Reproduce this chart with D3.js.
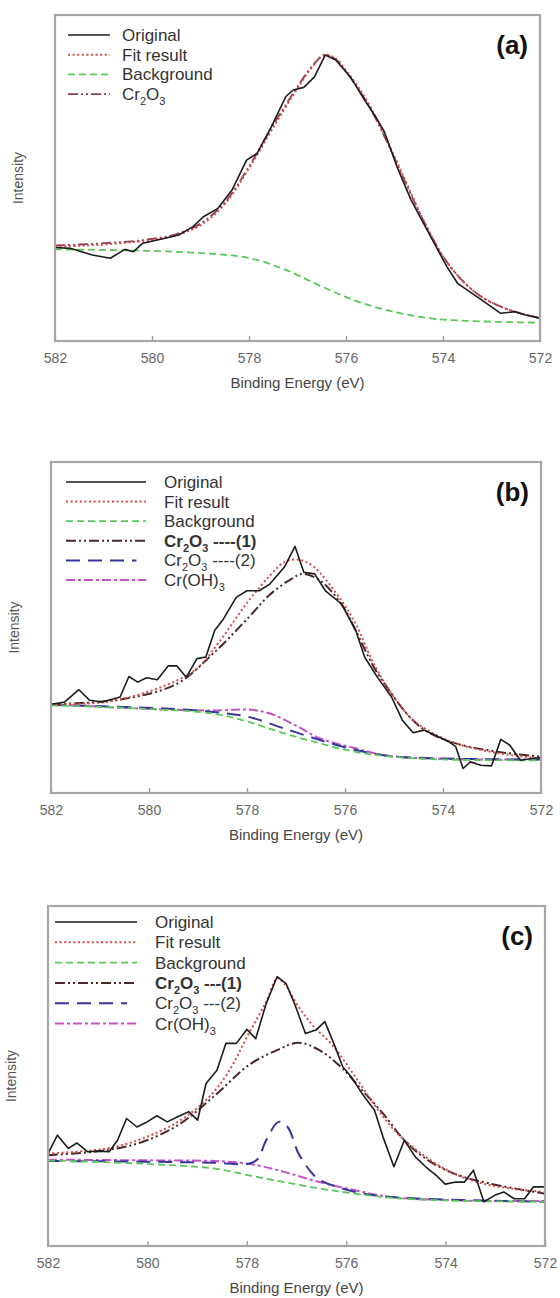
<!DOCTYPE html>
<html>
<head>
<meta charset="utf-8">
<script src="https://cdn.jsdelivr.net/npm/d3@7"></script>
<style>
  body { margin: 0; background: #fff; }
  svg { display: block; font-family: "Liberation Sans", Arial, sans-serif; }
</style>
</head>
<body>
<svg id="chart" width="560" height="1298"></svg>
<script>
// ---- data: [binding energy (eV), intensity (a.u., 0-100 of frame)] ----
const xTicks = [582, 580, 578, 576, 574, 572];

// panel (a)
const aOriginal = [[582.00,28.7],[581.67,28.4],[581.23,26.4],[580.86,25.4],[580.56,28.1],[580.38,27.4],[580.19,30.0],[579.82,31.2],[579.45,32.5],[579.16,35.0],[578.94,38.1],[578.64,40.7],[578.35,46.3],[578.05,55.5],[577.83,57.6],[577.54,65.7],[577.24,75.0],[577.09,77.0],[576.87,77.8],[576.65,81.0],[576.43,87.7],[576.21,86.2],[575.91,81.0],[575.62,74.0],[575.39,68.8],[575.21,64.2],[574.95,53.5],[574.66,43.3],[574.29,33.0],[573.92,22.8],[573.70,17.7],[573.40,14.6],[573.11,11.6],[572.81,8.5],[572.52,9.0],[572.30,8.0],[572.00,7.0]];
const aFit = [[582,29],[581.5,29.2],[581,29.6],[580.5,30.2],[580,31],[579.5,32.5],[579,35.5],[578.5,42],[578,53],[577.5,65.5],[577,77.5],[576.7,84],[576.45,87.8],[576.2,86.5],[576,83],[575.6,74.5],[575.2,63],[574.8,50],[574.4,37],[574,26],[573.6,18.5],[573.2,13.5],[572.8,10.5],[572.4,8.5],[572,7]];
const aBackground = [[582,28.1],[580.19,27.7],[578.72,26.7],[577.98,25.4],[577.24,21.8],[576.5,16.7],[575.76,12.1],[575.03,9],[574.29,7],[573.55,6.2],[572,5.6]];
const aCr2O3 = [[582,29.3],[581.5,29.6],[581,30],[580.5,30.5],[580,31.3],[579.5,32.8],[579,36],[578.5,42.5],[578,53.5],[577.5,66.3],[577,78],[576.7,84.3],[576.45,87.6],[576.2,86.2],[576,82.6],[575.6,74],[575.2,62.5],[574.8,49.5],[574.4,36.8],[574,26],[573.6,18.5],[573.2,13.5],[572.8,10.5],[572.4,8.5],[572,7]];

// panel (b)
const bOriginal = [[582.00,26.8],[581.72,27.5],[581.43,31.2],[581.21,28.0],[580.96,27.5],[580.59,29.0],[580.41,35.2],[580.23,33.5],[580.05,34.8],[579.83,34.2],[579.61,38.4],[579.43,38.4],[579.24,35.0],[579.02,40.6],[578.84,41.1],[578.66,49.1],[578.48,52.6],[578.22,59.1],[578.00,61.1],[577.75,61.1],[577.53,63.2],[577.24,68.2],[577.02,74.5],[576.84,66.7],[576.62,66.2],[576.40,61.1],[576.07,57.1],[575.78,49.1],[575.60,41.1],[575.34,35.0],[575.05,29.0],[574.83,22.0],[574.61,18.2],[574.39,19.0],[574.17,17.5],[573.88,15.5],[573.74,14.0],[573.59,7.4],[573.44,9.4],[573.23,8.4],[573.01,8.2],[572.82,16.2],[572.64,14.5],[572.42,9.9],[572.20,10.4],[572.00,10.7]];
const bFit = [[582,26.8],[580.88,27.5],[580.15,30],[579.43,34],[578.99,38],[578.55,46],[577.97,58],[577.53,65.7],[577.24,69.7],[576.95,70.5],[576.65,68.5],[576.07,58.1],[575.78,51],[575.41,39],[575.05,30],[574.68,23],[574.32,19],[573.74,15],[572.86,12],[572,10.4]];
const bBackground = [[582,26.5],[580.15,25.5],[578.7,24],[577.97,21.5],[577.24,18],[576.51,15],[575.78,12.4],[575.05,11],[573.95,10.1],[572,9.9]];
const bCr2O3a = [[582,26.8],[580.52,28.4],[579.43,33],[578.7,42],[577.97,53],[577.53,60],[577.09,64.7],[576.87,66.2],[576.51,64.2],[576.07,57],[575.78,49],[575.41,38],[575.05,30],[574.68,23],[574.32,18.5],[573.74,15],[572.86,12.4],[572,11]];
const bCr2O3b = [[582,26.6],[579.79,25.6],[578.7,24.5],[577.97,23],[577.24,19.5],[576.51,16],[575.78,13],[575.05,11.1],[572,10.1]];
const bCrOH3 = [[582,26.8],[580.15,25.5],[578.7,24.9],[577.97,25.2],[577.53,24],[577.02,20.5],[576.51,16.5],[575.78,13.5],[575.05,11.1],[572,10.1]];

// panel (c)
const cOriginal = [[582.00,27.2],[581.81,32.6],[581.59,28.7],[581.42,30.3],[581.20,27.7],[580.99,27.9],[580.77,27.7],[580.60,31.1],[580.42,37.5],[580.21,35.0],[580.03,36.3],[579.81,38.3],[579.60,36.5],[579.39,38.0],[579.17,39.5],[578.99,37.0],[578.82,47.8],[578.60,51.7],[578.42,59.6],[578.21,59.6],[578.00,63.7],[577.82,61.0],[577.61,71.3],[577.39,79.2],[577.21,77.2],[577.04,71.3],[576.82,62.5],[576.61,63.5],[576.43,66.0],[576.25,59.6],[576.07,52.7],[575.90,49.8],[575.68,44.8],[575.43,39.9],[575.26,32.1],[575.04,23.3],[574.83,31.1],[574.61,26.2],[574.40,23.3],[574.19,20.8],[574.01,18.2],[573.79,18.8],[573.62,18.8],[573.44,22.3],[573.23,13.0],[573.01,14.9],[572.83,15.9],[572.62,13.9],[572.41,13.9],[572.23,17.4],[572.00,17.4]];
const cFit = [[582,27.2],[580.81,28.7],[580.1,31.6],[579.39,36.5],[578.82,42.9],[578.39,50.7],[577.96,62.5],[577.61,71.8],[577.39,78.7],[577.25,77.2],[576.96,70.4],[576.68,65],[576.25,58.6],[575.82,49.8],[575.4,40.9],[574.97,33.1],[574.4,26.2],[573.83,21.3],[573.26,18.4],[572.69,16.9],[572,15.9]];
const cBackground = [[582,25.2],[580.1,24.2],[578.67,22.8],[577.96,20.8],[577.25,18.8],[576.54,16.9],[575.82,15.4],[575.11,14.2],[574.04,13.4],[572,13]];
const cCr2O3a = [[582,26.7],[580.81,28.2],[580.1,30.6],[579.39,35.5],[578.67,43.9],[577.96,53.2],[577.39,57.6],[576.96,59.8],[576.54,57.6],[576.11,52.7],[575.68,45.8],[575.26,39],[574.83,31.1],[574.4,25.7],[573.83,21.3],[573.12,18.4],[572,15.4]];
const cCr2O3b = [[582,25],[580.1,24.8],[578.67,24.5],[577.96,24.2],[577.78,25.6],[577.61,31.1],[577.36,36.5],[577.18,35],[576.96,27.2],[576.71,21.8],[576.54,19.5],[575.82,15.9],[575.11,14.4],[572,13]];
const cCrOH3 = [[582,25.4],[580.1,25.2],[578.67,25],[577.96,24.2],[577.25,21.8],[576.54,18.8],[575.82,16.4],[575.11,14.4],[573.69,13.4],[572,13.2]];

// ---- styles ----
const styles = {
  original:   { color: "#1c1c1c", width: 1.6, dash: null, curve: d3.curveLinear },
  fit:        { color: "#d84848", width: 2,   dash: "2,2.6", curve: d3.curveCatmullRom },
  background: { color: "#58c858", width: 1.8, dash: "7,4", curve: d3.curveCatmullRom },
  cr2o3:      { color: "#8a4054", width: 1.8, dash: "10,3,2,3,2,3", curve: d3.curveCatmullRom },
  cr2o3a:     { color: "#4a2828", width: 2,   dash: "10,3,2,3,2,3", curve: d3.curveCatmullRom },
  cr2o3b:     { color: "#36369c", width: 2,   dash: "14,8", curve: d3.curveCatmullRom },
  croh3:      { color: "#c452c4", width: 2,   dash: "9,3,3,3", curve: d3.curveCatmullRom }
};

const panels = [
  { tag: "(a)", x0: 55, x1: 540, y0: 15, y1: 341, legX: 68, legLen: 42, textX: 122, legY: 35, legStep: 19.7,
    series: [
      { key: "original", data: aOriginal, label: "Original" },
      { key: "fit", data: aFit, label: "Fit result" },
      { key: "background", data: aBackground, label: "Background" },
      { key: "cr2o3", data: aCr2O3, label: ["Cr", "2", "O", "3", ""] }
    ] },
  { tag: "(b)", x0: 51, x1: 541, y0: 462, y1: 793, legX: 66, legLen: 80, textX: 164, legY: 482, legStep: 19.6,
    series: [
      { key: "original", data: bOriginal, label: "Original" },
      { key: "fit", data: bFit, label: "Fit result" },
      { key: "background", data: bBackground, label: "Background" },
      { key: "cr2o3a", data: bCr2O3a, label: ["Cr", "2", "O", "3", " ----(1)"], bold: true },
      { key: "cr2o3b", data: bCr2O3b, label: ["Cr", "2", "O", "3", " ----(2)"], short: true },
      { key: "croh3", data: bCrOH3, label: ["Cr(OH)", "3"] }
    ] },
  { tag: "(c)", x0: 48, x1: 545, y0: 906, y1: 1246, legX: 55, legLen: 82, textX: 155, legY: 922, legStep: 20.3,
    series: [
      { key: "original", data: cOriginal, label: "Original" },
      { key: "fit", data: cFit, label: "Fit result" },
      { key: "background", data: cBackground, label: "Background" },
      { key: "cr2o3a", data: cCr2O3a, label: ["Cr", "2", "O", "3", " ---(1)"], bold: true },
      { key: "cr2o3b", data: cCr2O3b, label: ["Cr", "2", "O", "3", " ---(2)"], short: true },
      { key: "croh3", data: cCrOH3, label: ["Cr(OH)", "3"] }
    ] }
];

const svg = d3.select("#chart");

function drawPanel(p) {
  const x = d3.scaleLinear().domain([582, 572]).range([p.x0, p.x1]);
  const y = d3.scaleLinear().domain([0, 100]).range([p.y1, p.y0]);
  const g = svg.append("g");

  // clip
  const clipId = "clip" + p.tag.replace(/[()]/g, "");
  g.append("clipPath").attr("id", clipId)
    .append("rect").attr("x", p.x0).attr("y", p.y0)
    .attr("width", p.x1 - p.x0).attr("height", p.y1 - p.y0);

  // inward ticks on bottom axis
  const axis = d3.axisBottom(x).tickValues(xTicks).tickSizeInner(-5).tickSizeOuter(0)
    .tickPadding(12).tickFormat(d3.format("d"));
  const ax = g.append("g").attr("transform", `translate(0,${p.y1})`).call(axis);
  ax.select(".domain").remove();
  ax.selectAll(".tick line").attr("stroke", "#9a9a9a").attr("stroke-width", 1.3);
  ax.selectAll(".tick text").attr("fill", "#666").style("font-size", "14px")
    .style("font-family", "'Liberation Sans', Arial, sans-serif");

  // curves
  const plot = g.append("g").attr("clip-path", `url(#${clipId})`);
  p.series.slice().reverse().forEach(s => {
    const st = styles[s.key];
    const line = d3.line().x(d => x(d[0])).y(d => y(d[1])).curve(st.curve);
    plot.append("path").datum(s.data)
      .attr("d", line)
      .attr("fill", "none")
      .attr("stroke", st.color)
      .attr("stroke-width", st.width)
      .attr("stroke-dasharray", st.dash)
      .attr("stroke-linejoin", "round");
  });

  // frame
  g.append("rect").attr("x", p.x0).attr("y", p.y0)
    .attr("width", p.x1 - p.x0).attr("height", p.y1 - p.y0)
    .attr("fill", "none").attr("stroke", "#a6a6a6").attr("stroke-width", 2.2);

  // legend
  p.series.forEach((s, i) => {
    const st = styles[s.key];
    const cy = p.legY + i * p.legStep;
    const len = s.short ? p.legLen * 0.88 : p.legLen;
    g.append("line").attr("x1", p.legX).attr("x2", p.legX + len)
      .attr("y1", cy).attr("y2", cy)
      .attr("stroke", st.color).attr("stroke-width", st.width)
      .attr("stroke-dasharray", st.dash);
    const t = g.append("text").attr("x", p.textX).attr("y", cy + 6)
      .attr("fill", "#333").style("font-size", "17px")
      .style("font-weight", s.bold ? "bold" : "normal");
    if (typeof s.label === "string") {
      t.text(s.label);
    } else {
      s.label.forEach((part, j) => {
        const isSub = j % 2 === 1;
        t.append("tspan").text(part)
          .attr("dy", isSub ? 5 : (j > 0 ? -5 : 0))
          .style("font-size", isSub ? "11px" : "17px");
      });
    }
  });

  // panel tag
  g.append("text").attr("x", p.x1 - 12).attr("y", p.y0 + 39)
    .attr("text-anchor", "end").attr("fill", "#111")
    .style("font-size", "26px").style("font-weight", "bold").text(p.tag);

  // axis titles
  g.append("text").attr("x", (p.x0 + p.x1) / 2).attr("y", p.y1 + 47)
    .attr("text-anchor", "middle").attr("fill", "#444").style("font-size", "15px")
    .text("Binding Energy (eV)");
  g.append("text")
    .attr("transform", `translate(${p.x0 - 32},${(p.y0 + p.y1) / 2}) rotate(-90)`)
    .attr("text-anchor", "middle").attr("fill", "#555").style("font-size", "14px")
    .text("Intensity");
}

panels.forEach(drawPanel);
</script>
</body>
</html>
